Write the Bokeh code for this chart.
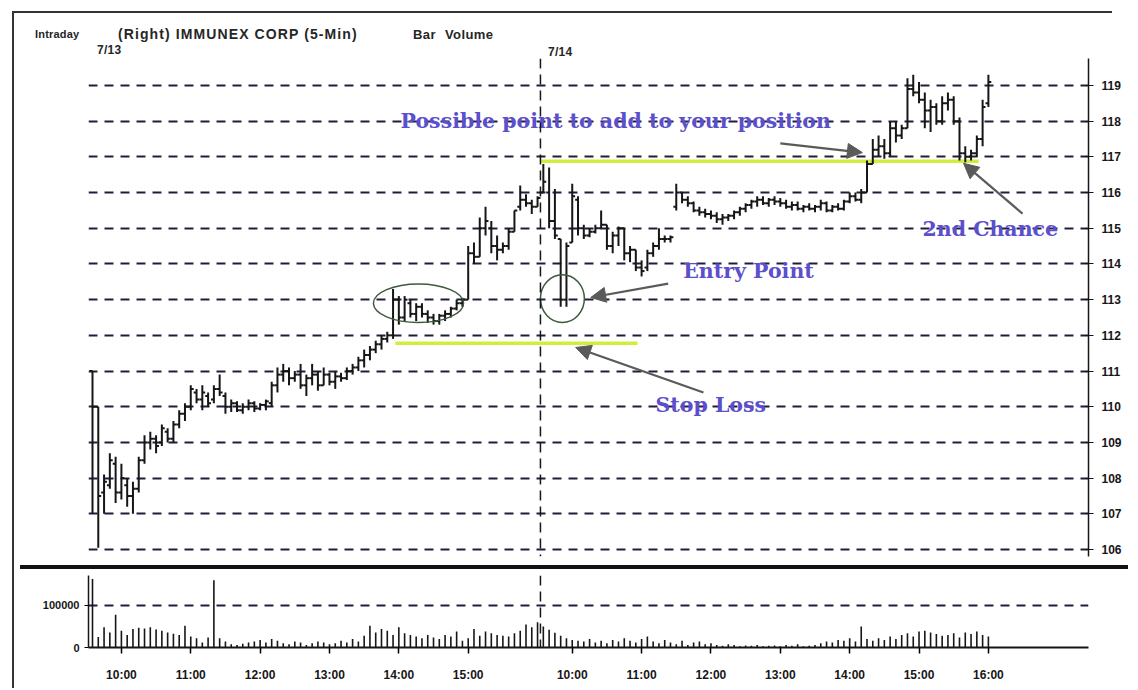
from bokeh.plotting import figure
from bokeh.models import (Range1d, FixedTicker, Span, Arrow, NormalHead, Div,
                          ColumnDataSource)
from bokeh.layouts import column, row
from bokeh.transform import dodge
from bokeh.embed import file_html
from bokeh.resources import INLINE
from bokeh.core.properties import value

# ---------------- data (5-minute bars, 7/13 then 7/14) ----------------
bar_index = list(range(156))

opens = [111.0, 110.0, 107.6, 107.8, 108.4, 107.6, 107.8, 107.5, 107.7, 108.5,
         109.0, 109.1, 109.0, 109.3, 109.1, 109.5, 109.8, 110.0, 110.4, 110.2,
         110.3, 110.2, 110.5, 110.3, 110.0, 110.1, 109.9, 110.0, 110.1, 109.95,
         110.05, 110.1, 110.6, 110.9, 111.0, 110.8, 110.9, 110.6, 110.8, 110.9,
         110.6, 110.9, 110.7, 110.85, 110.8, 111.0, 111.1, 111.3, 111.45, 111.6,
         111.75, 111.9, 112.0, 113.0, 112.5, 112.9, 112.6, 112.8, 112.6, 112.5,
         112.4, 112.55, 112.6, 112.75, 112.9, 113.0, 114.3, 114.2, 115.0, 115.0,
         114.5, 114.4, 114.5, 114.9, 115.6, 115.8, 115.7, 115.6,
         116.0, 116.0, 115.2, 114.7, 113.0, 114.6, 115.8, 115.0, 114.8, 114.9,
         115.0, 115.1, 114.5, 114.8, 115.0, 114.3, 114.4, 113.9, 113.9, 114.3,
         114.5, 114.7, 114.7, 115.6, 116.0, 115.8, 115.7, 115.5, 115.45, 115.4,
         115.35, 115.25, 115.3, 115.35, 115.45, 115.55, 115.65, 115.75, 115.8, 115.7,
         115.8, 115.75, 115.7, 115.6, 115.65, 115.55, 115.6, 115.55, 115.6, 115.7,
         115.5, 115.6, 115.55, 115.75, 115.9, 115.8, 116.0, 116.8, 117.2, 117.3,
         117.1, 117.8, 117.6, 117.8, 118.9, 118.8, 118.6, 118.3, 118.4, 118.0,
         118.5, 118.6, 118.0, 117.1, 117.0, 117.1, 117.5, 118.5]
highs = [111.0, 110.0, 108.1, 108.7, 108.6, 108.4, 108.0, 107.9, 108.6, 109.2,
         109.3, 109.2, 109.5, 109.4, 109.6, 109.9, 110.1, 110.6, 110.5, 110.6,
         110.4, 110.6, 110.9, 110.4, 110.2, 110.15, 110.1, 110.2, 110.15, 110.1,
         110.2, 110.7, 111.1, 111.2, 111.1, 111.0, 111.2, 110.9, 111.2, 111.0,
         111.1, 110.95, 111.0, 110.95, 111.1, 111.2, 111.4, 111.6, 111.7, 111.85,
         112.0, 112.1, 113.3, 113.1, 113.1, 113.0, 112.9, 112.9, 112.7, 112.6,
         112.6, 112.7, 112.8, 113.0, 113.05, 114.5, 114.6, 115.3, 115.6, 115.2,
         114.8, 114.6, 115.0, 115.5, 116.2, 115.95, 115.8, 115.9,
         116.8, 116.7, 116.1, 114.7, 114.6, 116.25, 115.9, 115.1, 115.0, 115.1,
         115.5, 115.1, 114.9, 115.05, 115.0, 114.5, 114.4, 114.1, 114.4, 114.6,
         115.0, 114.8, 114.8, 116.25, 116.0, 115.9, 115.75, 115.6, 115.55, 115.5,
         115.45, 115.4, 115.4, 115.5, 115.6, 115.7, 115.8, 115.9, 115.9, 115.85,
         115.9, 115.85, 115.8, 115.75, 115.75, 115.65, 115.7, 115.65, 115.8, 115.75,
         115.65, 115.7, 115.8, 116.0, 116.0, 116.1, 116.9, 117.5, 117.6, 117.5,
         118.0, 118.0, 117.9, 119.2, 119.3, 119.1, 118.8, 118.6, 118.5, 118.7,
         118.8, 118.7, 118.1, 117.3, 117.2, 117.6, 118.6, 119.3]
lows = [107.0, 106.05, 107.0, 107.7, 107.3, 107.4, 107.2, 107.0, 107.6, 108.4,
        108.8, 108.7, 108.9, 109.0, 109.0, 109.4, 109.6, 109.9, 110.1, 109.9,
        110.0, 110.1, 110.3, 109.8, 109.85, 109.85, 109.8, 109.9, 109.85, 109.9,
        109.9, 110.0, 110.4, 110.7, 110.6, 110.7, 110.5, 110.3, 110.6, 110.45,
        110.6, 110.6, 110.5, 110.7, 110.75, 110.9, 111.0, 111.1, 111.3, 111.5,
        111.6, 111.8, 111.9, 112.3, 112.4, 112.5, 112.4, 112.5, 112.35, 112.3,
        112.3, 112.4, 112.5, 112.7, 112.8, 113.0, 114.0, 114.2, 114.8, 114.3,
        114.1, 114.3, 114.4, 114.9, 115.5, 115.6, 115.4, 115.6,
        116.0, 115.0, 114.7, 112.8, 112.8, 114.6, 114.8, 114.7, 114.75, 114.85,
        115.0, 114.4, 114.3, 114.5, 114.1, 114.05, 113.8, 113.65, 113.8, 114.2,
        114.4, 114.6, 114.6, 115.5, 115.7, 115.6, 115.45, 115.35, 115.3, 115.25,
        115.15, 115.1, 115.2, 115.25, 115.35, 115.45, 115.55, 115.6, 115.65, 115.6,
        115.65, 115.6, 115.55, 115.5, 115.5, 115.45, 115.5, 115.45, 115.5, 115.45,
        115.45, 115.5, 115.5, 115.7, 115.75, 115.7, 116.0, 116.8, 117.0, 116.95,
        117.0, 117.4, 117.5, 117.8, 118.7, 118.5, 117.8, 117.7, 117.9, 117.9,
        118.3, 117.9, 116.9, 116.85, 116.9, 117.0, 117.3, 118.4]
closes = [110.0, 107.5, 107.9, 108.5, 107.6, 108.0, 107.5, 107.7, 108.5, 109.0,
          109.1, 108.9, 109.4, 109.1, 109.5, 109.8, 110.0, 110.5, 110.2, 110.4,
          110.1, 110.5, 110.4, 110.0, 110.1, 109.9, 110.0, 110.1, 109.95, 110.05,
          110.15, 110.6, 110.9, 111.0, 110.8, 110.9, 110.6, 110.8, 110.9, 110.6,
          110.9, 110.7, 110.85, 110.8, 111.0, 111.1, 111.3, 111.45, 111.6, 111.75,
          111.9, 112.0, 113.0, 112.5, 113.0, 112.6, 112.8, 112.6, 112.5, 112.4,
          112.55, 112.6, 112.75, 112.9, 113.0, 114.3, 114.2, 115.0, 115.2, 114.5,
          114.4, 114.5, 114.9, 115.5, 115.8, 115.7, 115.6, 115.85,
          116.3, 115.2, 114.8, 113.0, 114.5, 115.9, 115.0, 114.8, 114.9, 115.0,
          115.1, 114.5, 114.8, 115.0, 114.3, 114.4, 113.9, 113.8, 114.3, 114.5,
          114.7, 114.7, 114.75, 116.0, 115.8, 115.7, 115.5, 115.45, 115.4, 115.35,
          115.25, 115.3, 115.35, 115.45, 115.55, 115.65, 115.75, 115.8, 115.7, 115.8,
          115.75, 115.7, 115.6, 115.65, 115.55, 115.6, 115.55, 115.6, 115.7, 115.5,
          115.6, 115.55, 115.75, 115.9, 115.8, 116.0, 116.8, 117.2, 117.3, 117.1,
          117.8, 117.6, 117.8, 118.9, 118.8, 118.6, 118.3, 118.4, 118.0, 118.5,
          118.6, 118.0, 117.1, 117.0, 117.1, 117.5, 118.4, 119.1]
volumes = [163000, 25000, 48000, 36000, 78000, 40000, 30000, 44000, 47000, 45000,
           48000, 43000, 40000, 36000, 33000, 30000, 52000, 26000, 22000, 12000,
           24000, 160000, 22000, 14000, 8000, 6000, 9000, 12000, 14000, 18000,
           12000, 20000, 16000, 10000, 8000, 14000, 12000, 6000, 10000, 14000,
           12000, 8000, 10000, 16000, 12000, 20000, 14000, 28000, 52000, 36000,
           44000, 40000, 30000, 48000, 34000, 30000, 26000, 22000, 30000, 24000,
           20000, 30000, 26000, 38000, 16000, 22000, 44000, 28000, 38000, 34000,
           30000, 28000, 26000, 34000, 40000, 55000, 48000, 60000,
           50000, 42000, 35000, 28000, 22000, 18000, 16000, 14000, 20000, 12000,
           16000, 10000, 18000, 14000, 22000, 16000, 12000, 20000, 26000, 14000,
           10000, 18000, 12000, 8000, 16000, 6000, 12000, 14000, 8000, 10000,
           6000, 4000, 8000, 6000, 3000, 5000, 4000, 6000, 3000, 4000,
           5000, 3000, 6000, 4000, 8000, 3000, 4000, 6000, 10000, 14000,
           12000, 18000, 16000, 22000, 14000, 50000, 20000, 16000, 22000, 18000,
           26000, 20000, 30000, 34000, 26000, 38000, 40000, 36000, 32000, 28000,
           30000, 34000, 24000, 36000, 32000, 38000, 30000, 26000]

price_ticks = list(range(106, 120))
volume_ticks = [0, 100000]
time_tick_pos = [5, 17, 29, 41, 53, 65, 83, 95, 107, 119, 131, 143, 155]
time_tick_labels = ["10:00", "11:00", "12:00", "13:00", "14:00", "15:00",
                    "10:00", "11:00", "12:00", "13:00", "14:00", "15:00", "16:00"]
day_break = 77.5

# header texts (page pixels; the left strip is 14 px wide)
head_text = ["Intraday", "(Right) IMMUNEX CORP (5-Min)", "Bar", "Volume", "7/13", "7/14"]
head_left = [35, 118, 413, 445, 97, 548]
head_top = [28, 26, 27, 27, 43, 45]
head_size = [11, 14, 13, 13, 12, 12]
head_spacing = [0.2, 1.1, 0.4, 0.4, 0.3, 0.3]

# annotation lines / shapes (data units)
level_x0 = [77.5, 52.4]
level_x1 = [153.3, 94.3]
level_y = [116.88, 111.78]

note_text = ["Possible point to add to your position", "Entry Point", "Stop Loss", "2nd Chance"]
note_x = [53.3, 102.2, 97.4, 143.6]
note_y = [118.0, 113.8, 110.06, 114.97]

arrow_x0 = [119.0, 160.9, 99.6, 105.7]
arrow_y0 = [117.38, 115.41, 113.45, 110.4]
arrow_x1 = [133.2, 150.7, 86.2, 83.6]
arrow_y1 = [117.12, 116.82, 113.06, 111.66]

ring_x = [56.4, 81.3]
ring_y = [112.9, 113.03]
ring_w = [15.6, 7.6]
ring_h = [1.08, 1.34]

# ---------------- styles ----------------
INK = "#161616"
GRID = "#1e1e3c"
NOTE = "#5b4fcc"
LIME = "#d2ee3c"
STRIP = 14                 # left strip carrying the page frame line
W = 1130 - STRIP
HEAD_H = 58
X0, X1 = -0.692, 172.32   # bar units at frame edges

src = ColumnDataSource(dict(x=bar_index, o=opens, h=highs, l=lows, c=closes, v=volumes))

# ---------------- left strip (scanned page frame) ----------------
strip = Div(text='<div style="position:relative;width:14px;height:688px;">'
                 '<div style="position:absolute;left:12px;top:11px;width:0;height:677px;'
                 'border-left:2px solid #333;"></div></div>',
            width=STRIP, height=688, margin=(0, 0, 0, 0))

# ---------------- header strip (HTML text) ----------------
spans = "".join(
    f'<span style="position:absolute;left:{x - STRIP}px;top:{y}px;font-size:{s}px;'
    f'line-height:{s + 2}px;letter-spacing:{ls}px;white-space:nowrap;">{t}</span>'
    for t, x, y, s, ls in zip(head_text, head_left, head_top, head_size, head_spacing))
header_html = (
    f'<div style="position:relative;width:{W}px;height:{HEAD_H}px;'
    "font-family:'Liberation Sans',Arial,sans-serif;font-weight:bold;color:#262626;\">"
    f'<div style="position:absolute;left:0px;top:11px;width:{1112 - STRIP}px;height:0;'
    'border-top:2px solid #333;"></div>'
    + spans + '</div>')
header = Div(text=header_html, width=W, height=HEAD_H, margin=(0, 0, 0, 0))

# ---------------- price panel ----------------
p = figure(width=W, height=565 - HEAD_H, x_range=Range1d(X0, X1),
           y_range=Range1d(105.804, 119.756), x_axis_location=None,
           y_axis_location="right", toolbar_location=None, output_backend="svg",
           min_border_left=88 - STRIP, min_border_right=42, min_border_top=0,
           min_border_bottom=9)
p.outline_line_color = None
p.xgrid.visible = False
p.ygrid.ticker = FixedTicker(ticks=price_ticks)
p.ygrid.grid_line_color = GRID
p.ygrid.grid_line_dash = "9 7"
p.ygrid.grid_line_width = 2
ax = p.yaxis[0]
ax.ticker = FixedTicker(ticks=price_ticks)
ax.major_label_text_font = "Liberation Sans"
ax.major_label_text_font_style = "bold"
ax.major_label_text_font_size = "12px"
ax.major_label_text_color = INK
ax.major_label_standoff = 8
ax.major_tick_in = 4
ax.major_tick_out = 5
ax.minor_tick_line_color = None
ax.axis_line_width = 1.5
ax.axis_line_color = INK
ax.major_tick_line_color = INK

p.segment(x0=level_x0, y0=level_y, x1=level_x1, y1=level_y,
          line_color=LIME, line_width=3.5)
p.add_layout(Span(location=day_break, dimension="height", line_color=INK,
                  line_dash="10 6", line_width=1.5))

# OHLC bars
p.segment(x0="x", y0="l", x1="x", y1="h", source=src, line_color=INK, line_width=2)
p.segment(x0=dodge("x", -0.5), y0="o", x1="x", y1="o", source=src,
          line_color=INK, line_width=2)
p.segment(x0="x", y0="c", x1=dodge("x", 0.5), y1="c", source=src,
          line_color=INK, line_width=2)

p.ellipse(x=ring_x, y=ring_y, width=ring_w, height=ring_h, fill_color=None,
          line_color="#3e5a3e", line_width=1.5)

for xs, ys, xe, ye in zip(arrow_x0, arrow_y0, arrow_x1, arrow_y1):
    p.add_layout(Arrow(end=NormalHead(size=15, fill_color="#5a5a5a", line_color="#5a5a5a"),
                       x_start=xs, y_start=ys, x_end=xe, y_end=ye,
                       line_color="#5a5a5a", line_width=2.2))

p.text(x=note_x, y=note_y, text=note_text, text_font=value("DejaVu Serif"),
       text_font_style="bold", text_font_size="20.5px", text_color=NOTE,
       text_baseline="middle", text_align="left")

# separator bar between panels
sep = Div(text="", width=1108, height=4, margin=(0, 0, 0, 20 - STRIP),
          styles={"background-color": "#111111"})

# ---------------- volume panel ----------------
pv = figure(width=W, height=119, x_range=Range1d(X0, X1), y_range=Range1d(0, 171400),
            toolbar_location=None, output_backend="svg",
            min_border_left=88 - STRIP, min_border_right=42, min_border_top=6,
            min_border_bottom=41)
pv.outline_line_color = None
pv.xgrid.visible = False
pv.ygrid.ticker = FixedTicker(ticks=[100000])
pv.ygrid.grid_line_color = GRID
pv.ygrid.grid_line_dash = "9 7"
pv.ygrid.grid_line_width = 2
pv.segment(x0="x", y0=0, x1="x", y1="v", source=src, line_color=INK, line_width=1.6)
pv.add_layout(Span(location=day_break, dimension="height", line_color=INK,
                   line_dash="10 6", line_width=1.5))

vy = pv.yaxis[0]
vy.ticker = FixedTicker(ticks=volume_ticks)
vy.major_label_overrides = {0: "0", 100000: "100000"}
vy.major_label_text_font = "Liberation Sans"
vy.major_label_text_font_style = "bold"
vy.major_label_text_font_size = "11px"
vy.major_label_text_color = INK
vy.major_tick_in = 0
vy.major_tick_out = 4
vy.minor_tick_line_color = None
vy.axis_line_width = 1.5
vy.axis_line_color = INK

vx = pv.xaxis[0]
vx.ticker = FixedTicker(ticks=time_tick_pos)
vx.major_label_overrides = {pos: lab for pos, lab in zip(time_tick_pos, time_tick_labels)}
vx.major_label_text_font = "Liberation Sans"
vx.major_label_text_font_style = "bold"
vx.major_label_text_font_size = "12px"
vx.major_label_text_color = INK
vx.major_label_standoff = 14
vx.major_tick_in = 0
vx.major_tick_out = 6
vx.minor_tick_line_color = None
vx.axis_line_width = 2
vx.axis_line_color = INK
vx.major_tick_line_width = 1.5

layout = row(strip, column(header, p, sep, pv))
open("out.html", "w").write(file_html(layout, INLINE))
